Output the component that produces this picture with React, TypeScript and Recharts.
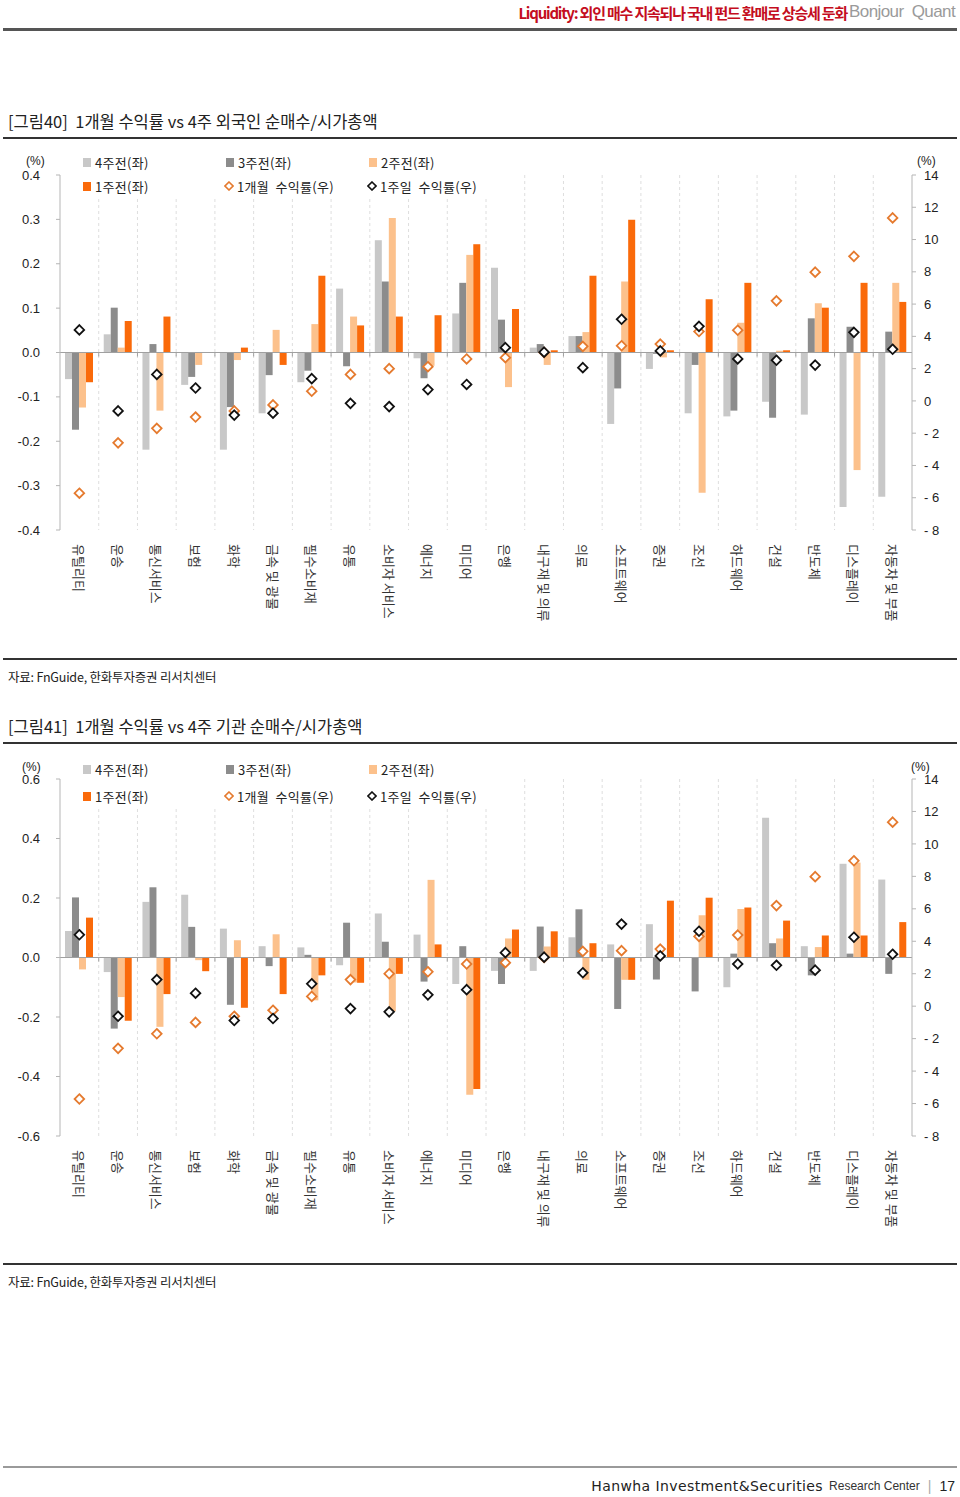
import React from 'react';
import { ComposedChart, Bar, Scatter, XAxis, YAxis, CartesianGrid, ReferenceLine } from 'recharts';

const categories = ['유틸리티', '운송', '통신서비스', '보험', '화학', '금속 및 광물', '필수소비재', '유통', '소비자 서비스', '에너지', '미디어', '은행', '내구재 및 의류', '의료', '소프트웨어', '증권', '조선', '하드웨어', '건설', '반도체', '디스플레이', '자동차 및 부품'];

// [그림40] foreign net buying / market cap (%)
const foreign4w = [-0.060, 0.041, -0.219, -0.073, -0.219, -0.137, -0.067, 0.144, 0.253, -0.013, 0.088, 0.191, 0.011, 0.037, -0.161, -0.037, -0.137, -0.144, -0.111, -0.140, -0.348, -0.325];
const foreign3w = [-0.174, 0.101, 0.019, -0.055, -0.123, -0.051, -0.041, -0.031, 0.160, -0.058, 0.157, 0.074, 0.019, 0.037, -0.081, -0.003, -0.028, -0.131, -0.147, 0.077, 0.058, 0.047];
const foreign2w = [-0.124, 0.011, -0.131, -0.028, -0.017, 0.051, 0.064, 0.081, 0.303, -0.030, 0.220, -0.078, -0.028, 0.046, 0.160, -0.011, -0.316, 0.067, 0.004, 0.111, -0.265, 0.157];
const foreign1w = [-0.067, 0.071, 0.081, 0, 0.011, -0.028, 0.173, 0.061, 0.081, 0.084, 0.244, 0.098, 0.005, 0.173, 0.299, 0.005, 0.120, 0.157, 0.005, 0.101, 0.157, 0.114];

// [그림41] institutional net buying / market cap (%)
const inst4w = [0.089, -0.049, 0.187, 0.211, 0.097, 0.038, 0.034, -0.026, 0.148, 0.077, -0.089, -0.045, -0.045, 0.068, 0.044, 0.112, 0, -0.100, 0.470, 0.038, 0.315, 0.262];
const inst3w = [0.202, -0.239, 0.236, 0.103, -0.159, -0.029, 0.009, 0.117, 0.053, -0.081, 0.038, -0.089, 0.104, 0.162, -0.173, -0.074, -0.114, 0.013, 0.048, -0.060, 0.013, -0.055];
const inst2w = [-0.040, -0.133, -0.233, -0.009, 0.058, 0.078, -0.144, -0.084, -0.181, 0.261, -0.461, 0.064, 0.037, -0.075, -0.075, 0, 0.142, 0.163, 0.064, 0.035, 0.319, 0];
const inst1w = [0.134, -0.213, -0.123, -0.046, -0.169, -0.123, -0.060, -0.085, -0.055, 0.044, -0.442, 0.094, 0.088, 0.048, -0.075, 0.191, 0.201, 0.168, 0.124, 0.074, 0.074, 0.119];

// returns (right axis, %)
const return1m = [-5.72, -2.6, -1.7, -1.0, -0.62, -0.25, 0.6, 1.64, 2.0, 2.12, 2.6, 2.68, 3.0, 3.38, 3.42, 3.52, 4.3, 4.38, 6.2, 7.98, 8.96, 11.34];
const return1w = [4.4, -0.62, 1.64, 0.8, -0.88, -0.76, 1.38, -0.15, -0.35, 0.7, 1.02, 3.3, 3.02, 2.06, 5.06, 3.1, 4.62, 2.6, 2.52, 2.22, 4.25, 3.2];

const leftTicks1 = [-0.4, -0.3, -0.2, -0.1, 0, 0.1, 0.2, 0.3, 0.4];
const leftTicks2 = [-0.6, -0.4, -0.2, 0, 0.2, 0.4, 0.6];
const rightTicks = [-8, -6, -4, -2, 0, 2, 4, 6, 8, 10, 12, 14];

const C4 = '#c8c8c8';
const C3 = '#8c8c8c';
const C2 = '#fcc18c';
const C1 = '#fa6a0a';
const CM = '#e57a2e';
const CW = '#111111';

const KR = '"Noto Sans CJK KR", "Noto Sans", sans-serif';
const NUM = '"Liberation Sans", Arial, sans-serif';

const buildData = (a: number[], b: number[], c: number[], d: number[]) =>
  categories.map((name, i) => ({ name, w4: a[i], w3: b[i], w2: c[i], w1: d[i], m1: return1m[i], wk: return1w[i] }));

const data1 = buildData(foreign4w, foreign3w, foreign2w, foreign1w);
const data2 = buildData(inst4w, inst3w, inst2w, inst1w);

const makeDiamond = (color: string) => (props: any) => {
  const { cx, cy } = props;
  if (cx == null || cy == null || isNaN(cx) || isNaN(cy)) return <g />;
  const r = 4.8;
  return (
    <polygon
      points={`${cx},${cy - r} ${cx + r},${cy} ${cx},${cy + r} ${cx - r},${cy}`}
      fill="#ffffff"
      stroke={color}
      strokeWidth={1.8}
    />
  );
};
const OrangeDiamond = makeDiamond(CM);
const BlackDiamond = makeDiamond(CW);

const ZeroLine = (props: any) => {
  const { x1, x2, y1 } = props;
  const n = categories.length;
  const marks = [];
  for (let i = 1; i < n; i++) {
    const x = x1 + ((x2 - x1) * i) / n;
    marks.push(<line key={i} x1={x} x2={x} y1={y1} y2={y1 + 4} stroke="#a0a0a0" strokeWidth={1} />);
  }
  return (
    <g>
      <line x1={x1} x2={x2} y1={y1} y2={y1} stroke="#a0a0a0" strokeWidth={1} />
      {marks}
    </g>
  );
};

const XTick = (props: any) => {
  const { x, y, payload } = props;
  const ty = y + 14;
  return (
    <text
      x={x}
      y={ty}
      transform={`rotate(90, ${x}, ${ty})`}
      textAnchor="start"
      dominantBaseline="central"
      fontSize={13}
      fill="#333"
      fontFamily={KR}
    >
      {payload.value}
    </text>
  );
};

const fmtLeft = (v: number) => (v < 0 ? '-' + Math.abs(v).toFixed(1) : v.toFixed(1));
const fmtRight = (v: number) => (v < 0 ? '- ' + Math.abs(v) : String(v));

type PanelProps = {
  top: number;
  data: any[];
  domain: [number, number];
  ticks: number[];
  marginTop: number;
  plotHeight: number;
};

const Panel = ({ top, data, domain, ticks, marginTop, plotHeight }: PanelProps) => {
  const xHeight = 110;
  const height = marginTop + plotHeight + xHeight;
  return (
    <div style={{ position: 'absolute', left: 0, top }}>
      <ComposedChart
        width={960}
        height={height}
        data={data}
        margin={{ top: marginTop, right: 0, bottom: 0, left: 0 }}
        barGap={0}
      >
        <CartesianGrid
          horizontal={false}
          stroke="#dedede"
          strokeDasharray="3 3"
          verticalCoordinatesGenerator={({ offset }: any) =>
            categories.slice(1).map((_, i) => offset.left + ((i + 1) * offset.width) / categories.length)
          }
        />
        <XAxis
          dataKey="name"
          height={xHeight}
          axisLine={false}
          tickLine={false}
          tickSize={0}
          tickMargin={0}
          interval={0}
          tick={XTick}
        />
        <YAxis
          yAxisId="left"
          width={60}
          domain={domain}
          ticks={ticks}
          allowDataOverflow
          tickSize={4}
          tickMargin={16}
          axisLine={{ stroke: '#b5b5b5' }}
          tickLine={{ stroke: '#b5b5b5' }}
          tick={{ fontSize: 13, fill: '#222', fontFamily: NUM }}
          tickFormatter={fmtLeft}
        />
        <YAxis
          yAxisId="right"
          orientation="right"
          width={48}
          domain={[-8, 14]}
          ticks={rightTicks}
          allowDataOverflow
          tickSize={4}
          tickMargin={8}
          axisLine={{ stroke: '#b5b5b5' }}
          tickLine={{ stroke: '#b5b5b5' }}
          tick={{ fontSize: 13, fill: '#222', fontFamily: NUM }}
          tickFormatter={fmtRight}
        />
        <ReferenceLine yAxisId="left" y={0} shape={ZeroLine} />
        <Bar yAxisId="left" dataKey="w4" fill={C4} barSize={7} isAnimationActive={false} />
        <Bar yAxisId="left" dataKey="w3" fill={C3} barSize={7} isAnimationActive={false} />
        <Bar yAxisId="left" dataKey="w2" fill={C2} barSize={7} isAnimationActive={false} />
        <Bar yAxisId="left" dataKey="w1" fill={C1} barSize={7} isAnimationActive={false} />
        <Scatter yAxisId="right" dataKey="m1" shape={OrangeDiamond} isAnimationActive={false} />
        <Scatter yAxisId="right" dataKey="wk" shape={BlackDiamond} isAnimationActive={false} />
      </ComposedChart>
    </div>
  );
};

const Square = ({ color }: { color: string }) => (
  <span style={{ display: 'inline-block', width: 8, height: 9, background: color, marginRight: 4 }} />
);
const DiamondIcon = ({ color }: { color: string }) => (
  <svg width={10} height={10} style={{ marginRight: 3, verticalAlign: 'middle' }}>
    <polygon points="5,1 9,5 5,9 1,5" fill="#fff" stroke={color} strokeWidth={1.6} />
  </svg>
);

const legendText: React.CSSProperties = { fontSize: 13, color: '#222', fontFamily: KR, whiteSpace: 'pre', letterSpacing: 0.3 };

const LegendItem = ({ x, y, icon, label }: { x: number; y: number; icon: React.ReactNode; label: string }) => (
  <div style={{ position: 'absolute', left: x, top: y - 10, height: 20, display: 'flex', alignItems: 'center', ...legendText }}>
    {icon}
    <span>{label}</span>
  </div>
);

const Legend = ({ y1, y2 }: { y1: number; y2: number }) => (
  <>
    <div style={{ position: 'absolute', left: 78, top: y1 - 11, width: 420, height: y2 - y1 + 22, background: '#fff' }} />
    <LegendItem x={83} y={y1} icon={<Square color={C4} />} label="4주전(좌)" />
    <LegendItem x={226} y={y1} icon={<Square color={C3} />} label="3주전(좌)" />
    <LegendItem x={369} y={y1} icon={<Square color={C2} />} label="2주전(좌)" />
    <LegendItem x={83} y={y2} icon={<Square color={C1} />} label="1주전(좌)" />
    <LegendItem x={224} y={y2} icon={<DiamondIcon color={CM} />} label="1개월  수익률(우)" />
    <LegendItem x={367} y={y2} icon={<DiamondIcon color={CW} />} label="1주일  수익률(우)" />
  </>
);

const Unit = ({ x, y }: { x: number; y: number }) => (
  <div style={{ position: 'absolute', left: x, top: y - 8, fontSize: 12, lineHeight: '16px', color: '#222', fontFamily: NUM }}>(%)</div>
);

const HLine = ({ y, h, color }: { y: number; h: number; color: string }) => (
  <div style={{ position: 'absolute', left: 3, width: 954, top: y, height: h, background: color }} />
);

const Title = ({ y, text }: { y: number; text: string }) => (
  <div style={{ position: 'absolute', left: 8, top: y - 11, fontSize: 16.5, lineHeight: '22px', color: '#222', fontFamily: KR, whiteSpace: 'pre', letterSpacing: 0 }}>
    {text}
  </div>
);

const Source = ({ y }: { y: number }) => (
  <div style={{ position: 'absolute', left: 8, top: y - 9, fontSize: 12.5, lineHeight: '18px', color: '#222', fontFamily: KR, whiteSpace: 'pre', letterSpacing: -0.2 }}>
    자료: FnGuide, 한화투자증권 리서치센터
  </div>
);

export default function App() {
  return (
    <div style={{ position: 'absolute', left: 0, top: 0, width: 960, height: 1497, background: '#fff', overflow: 'hidden' }}>
      <div style={{ position: 'absolute', right: 5, top: 1, height: 22, display: 'flex', alignItems: 'center', whiteSpace: 'pre' }}>
        <span style={{ fontFamily: KR, fontWeight: 700, fontSize: 15, color: '#c40d20', letterSpacing: -1.2 }}>
          Liquidity: 외인 매수 지속되나 국내 펀드 환매로 상승세 둔화
        </span>
        <span style={{ fontFamily: '"Liberation Sans Narrow", "Liberation Sans", sans-serif', fontSize: 17, color: '#9a9a9a', marginLeft: 2, letterSpacing: -0.6 }}>
          Bonjour  Quant
        </span>
      </div>
      <HLine y={28} h={3} color="#555" />

      <Title y={121} text="[그림40]  1개월 수익률 vs 4주 외국인 순매수/시가총액" />
      <HLine y={137} h={1.5} color="#333" />

      <Panel top={150} data={data1} domain={[-0.4, 0.4]} ticks={leftTicks1} marginTop={25} plotHeight={355} />
      <Legend y1={162} y2={186} />
      <Unit x={26} y={161} />
      <Unit x={917} y={161} />

      <HLine y={658} h={2} color="#333" />
      <Source y={677} />

      <Title y={726} text="[그림41]  1개월 수익률 vs 4주 기관 순매수/시가총액" />
      <HLine y={742} h={1.5} color="#333" />

      <Panel top={755} data={data2} domain={[-0.6, 0.6]} ticks={leftTicks2} marginTop={24} plotHeight={357} />
      <Legend y1={769} y2={796} />
      <Unit x={22} y={767} />
      <Unit x={911} y={767} />

      <HLine y={1263} h={2} color="#333" />
      <Source y={1282} />

      <HLine y={1466} h={2} color="#9a9a9a" />
      <div style={{ position: 'absolute', right: 5, top: 1476, height: 20, display: 'flex', alignItems: 'center', whiteSpace: 'pre', color: '#222' }}>
        <span style={{ fontFamily: '"DejaVu Sans", sans-serif', fontSize: 14, letterSpacing: 0.4 }}>Hanwha Investment&amp;Securities</span>
        <span style={{ fontFamily: '"Liberation Sans Narrow", "Liberation Sans", sans-serif', fontSize: 12, marginLeft: 6, color: '#333' }}>Research Center</span>
        <span style={{ fontFamily: NUM, fontSize: 14, marginLeft: 8, color: '#aaa' }}>|</span>
        <span style={{ fontFamily: NUM, fontSize: 14, marginLeft: 8 }}>17</span>
      </div>
    </div>
  );
}
